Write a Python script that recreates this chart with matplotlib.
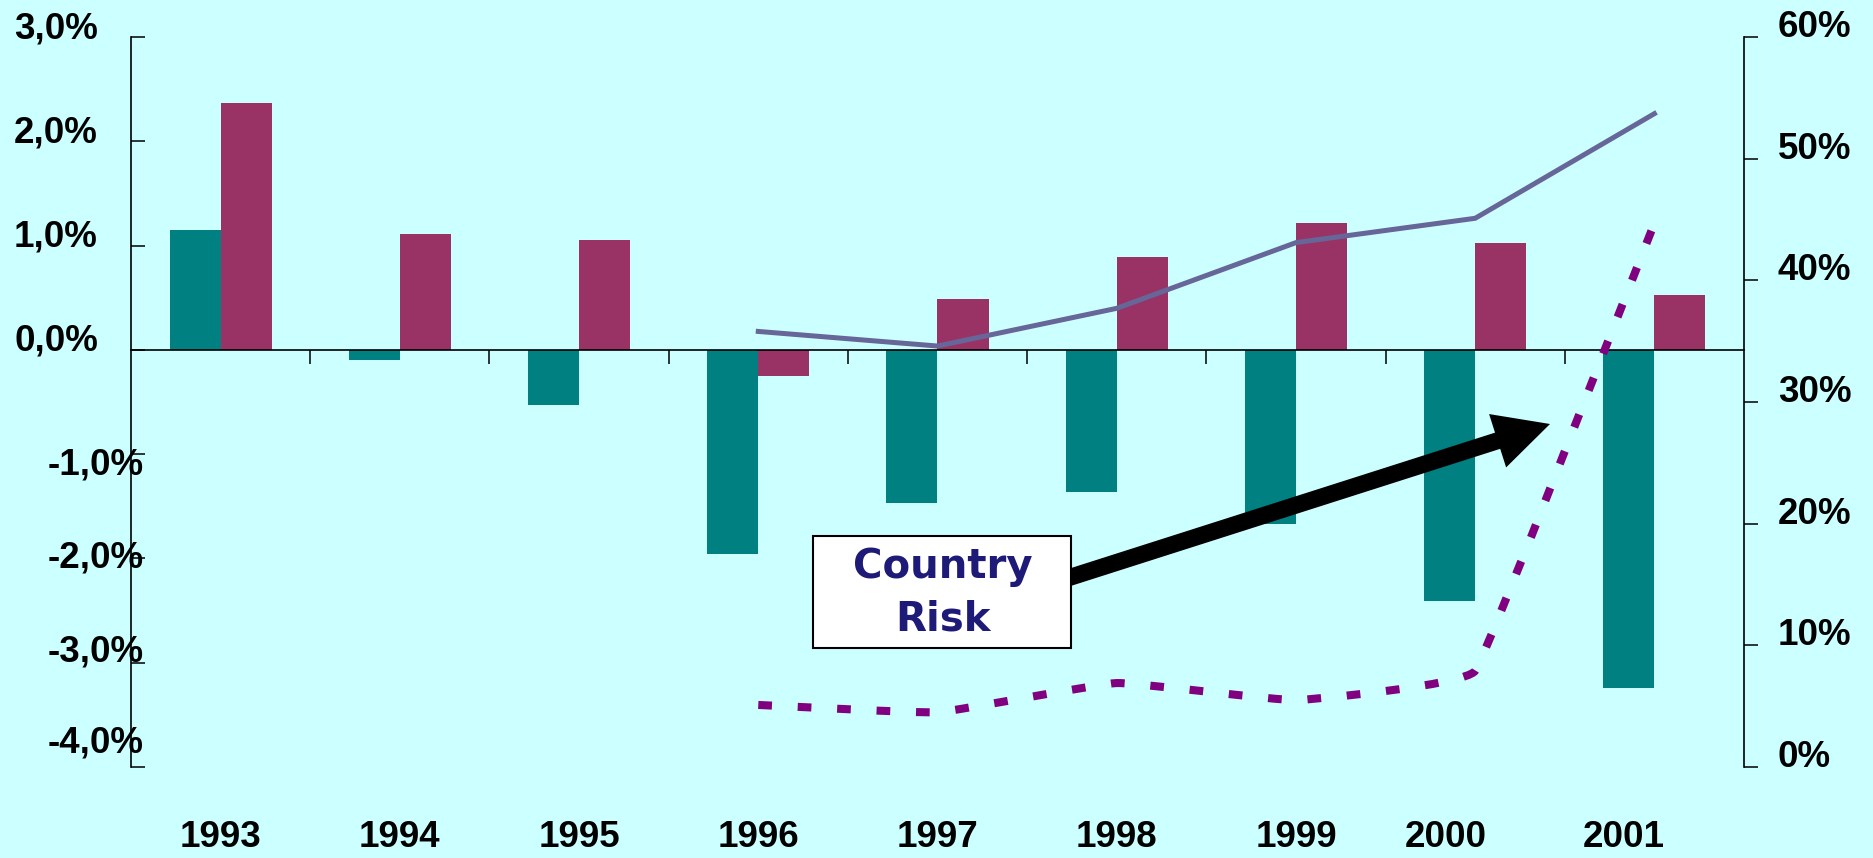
import numpy as np
import matplotlib
matplotlib.use("Agg")
import matplotlib.pyplot as plt
from matplotlib.path import Path
from matplotlib.patches import PathPatch, FancyArrow, Rectangle
from matplotlib.transforms import ScaledTranslation, blended_transform_factory
from matplotlib.font_manager import FontProperties

# ---------------- data ----------------
years = ['1993', '1994', '1995', '1996', '1997', '1998', '1999', '2000', '2001']
series_teal = [1.15, -0.10, -0.53, -1.96, -1.47, -1.36, -1.67, -2.41, -3.24]      # left axis, %
series_magenta = [2.37, 1.11, 1.05, -0.25, 0.49, 0.89, 1.22, 1.02, 0.53]           # left axis, %
line_years = ['1996', '1997', '1998', '1999', '2000', '2001']
line_solid = [35.8, 34.6, 37.7, 43.1, 45.1, 53.7]                                  # right axis, %
line_dashed = [5.1, 4.5, 6.9, 5.5, 7.9, 44.7]                                      # right axis, %
left_ticks = [-4, -3, -2, -1, 0, 1, 2, 3]
right_ticks = [0, 10, 20, 30, 40, 50, 60]
annotation_text = "Country\nRisk"

# ---------------- style ----------------
BG = '#CCFFFF'
TEAL = '#008080'
MAGENTA = '#993366'
SOLID = '#666699'
DASHED = '#800080'
NAVY = '#1E1A78'
W, H, DPI = 18.74, 8.58, 100
LABEL_FONT = dict(family=['Liberation Sans', 'Arial', 'DejaVu Sans'], weight='bold', size=26.5)

fig = plt.figure(figsize=(W, H), dpi=DPI, facecolor=BG)
px = lambda v: v / DPI  # pixels -> inches
ax = fig.add_axes([131 / 1874, 1 - 767 / 858, (1744 - 131) / 1874, (767 - 37) / 858])
ax.set_facecolor(BG)
ax2 = ax.twinx()
ax2.patch.set_visible(False)

x = np.arange(len(years))
bw = 0.285
ax.bar(x - bw / 2, series_teal, bw, color=TEAL, zorder=2)
ax.bar(x + bw / 2, series_magenta, bw, color=MAGENTA, zorder=2)
ax.set_xlim(-0.5, len(years) - 0.5)
ax.set_ylim(left_ticks[0], left_ticks[-1])
ax2.set_ylim(right_ticks[0], right_ticks[-1])

# spines
ax.spines['top'].set_visible(False)
ax2.spines['top'].set_visible(False)
ax.spines['right'].set_visible(False)
ax2.spines['left'].set_visible(False)
ax2.spines['bottom'].set_visible(False)
ax.spines['bottom'].set_position(('data', 0))
for sp in [ax.spines['left'], ax.spines['bottom'], ax2.spines['right']]:
    sp.set_linewidth(1.2)
    sp.set_color('black')
ax.spines['bottom'].set_zorder(3)

# x ticks: boundaries on zero line, no labels
ax.set_xticks([])
ax.set_xticks(np.arange(0.5, len(years) - 1, 1.0), minor=True)
ax.tick_params(axis='x', which='minor', direction='out', length=10, width=1.1, color='black')

# year labels on a secondary axis at the bottom
secax = ax.secondary_xaxis(0.0)
secax.spines['bottom'].set_visible(False)
secax.set_xticks(x, labels=years)
secax.tick_params(axis='x', length=0, pad=38.5)
for lab in secax.get_xticklabels():
    lab.set_fontproperties(FontProperties(**LABEL_FONT))
year_dx = [0, 0, 0, 0, 0, 0, 0, -29, -31]
for tick, dx in zip(secax.xaxis.get_major_ticks(), year_dx):
    tick.label1.set_transform(tick.label1.get_transform() + ScaledTranslation(px(dx), 0, fig.dpi_scale_trans))

# left y axis
ax.set_yticks(left_ticks, labels=[f"{v:.1f}%".replace('.', ',') for v in left_ticks])
ax.tick_params(axis='y', direction='in', length=10, width=1.1, color='black')
left_shift = {3: (0, 12), 2: (0, 12), 1: (0, 13), 0: (0, 13), -1: (46, -7), -2: (46, 4), -3: (46, 15), -4: (46, 28)}
for tick, v in zip(ax.yaxis.get_major_ticks(), left_ticks):
    dx, dy = left_shift[v]
    tick.label1.set_fontproperties(FontProperties(**LABEL_FONT))
    tick.label1.set_horizontalalignment('right')
    tick.label1.set_transform(ax.get_yaxis_transform('tick1') +
                              ScaledTranslation(px(-33 + dx), px(dy), fig.dpi_scale_trans))

# right y axis: ticks from the library, labels placed as text next to them
ax2.set_yticks(right_ticks)
ax2.tick_params(axis='y', direction='out', length=10, width=1.1, color='black', labelright=False)
rtrans = blended_transform_factory(ax2.transAxes, ax2.transData) + \
    ScaledTranslation(px(34), 0, fig.dpi_scale_trans)
for v in right_ticks:
    ax2.text(1.0, v, f"{v:.0f}%", transform=rtrans, ha='left', va='baseline',
             fontproperties=FontProperties(**LABEL_FONT), clip_on=False)

# solid line
lx = np.array([years.index(y) for y in line_years], dtype=float)
ax2.plot(lx, line_solid, color=SOLID, lw=3.6, solid_joinstyle='miter', zorder=4)


# smoothed dashed line (Bezier through data points, computed in display space)
def smooth_path(axis, xs, ys, k=0.1):
    d = axis.transData.transform(np.column_stack([xs, ys]))
    n = len(d)
    verts = [d[0]]
    codes = [Path.MOVETO]
    seg = [np.linalg.norm(d[i + 1] - d[i]) for i in range(n - 1)]
    for i in range(n - 1):
        p0, p1, p2, p3 = d[max(i - 1, 0)], d[i], d[i + 1], d[min(i + 2, n - 1)]
        t1 = (p2 - p0) / np.linalg.norm(p2 - p0)
        t2 = (p3 - p1) / np.linalg.norm(p3 - p1)
        l1 = min(seg[i], seg[i - 1]) if i > 0 else seg[i]
        l2 = min(seg[i], seg[i + 1]) if i + 1 < n - 1 else seg[i]
        verts += [p1 + t1 * l1 * k, p2 - t2 * l2 * k, p2]
        codes += [Path.CURVE4] * 3
    verts = axis.transData.inverted().transform(np.array(verts))
    return Path(verts, codes)


dpath = smooth_path(ax2, lx, line_dashed)
ax2.add_patch(PathPatch(dpath, fill=False, edgecolor=DASHED, lw=5.8,
                        linestyle=(0, (1.7, 3.2)), capstyle='butt', zorder=5))

# annotation: arrow + box
x0, y0 = 1060, 580.5
x1, y1 = 1550, 424
arrow = FancyArrow(px(x0), px(858 - y0), px(x1 - x0), px(y0 - y1), width=px(17),
                   head_width=px(56), head_length=px(55), length_includes_head=True,
                   facecolor='black', edgecolor='none', transform=fig.dpi_scale_trans, zorder=6)
fig.add_artist(arrow)
box = Rectangle((px(813), px(858 - 648)), px(1071 - 813), px(648 - 536), facecolor='white',
                edgecolor='black', lw=1.5, transform=fig.dpi_scale_trans, zorder=7)
fig.add_artist(box)
fig.text(px(943), px(858 - 593), annotation_text, transform=fig.dpi_scale_trans, ha='center', va='center',
         color=NAVY, fontsize=29, family=['DejaVu Sans'], weight='bold', linespacing=1.4, zorder=8)

fig.savefig('out.png', dpi=DPI, facecolor=BG)
